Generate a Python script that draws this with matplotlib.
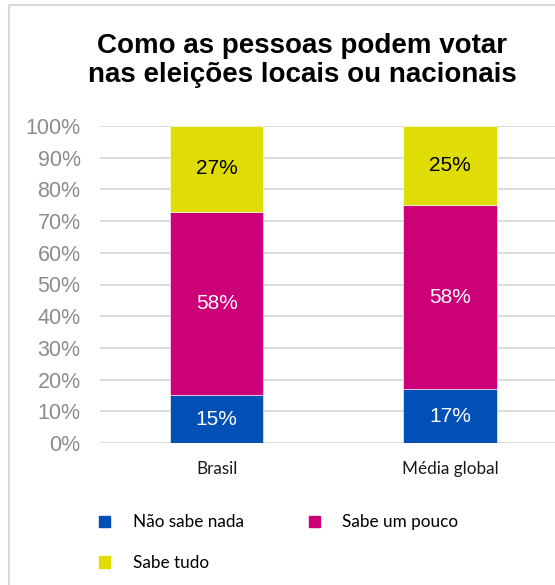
import matplotlib.pyplot as plt
from matplotlib.patches import Patch, Rectangle
from matplotlib.ticker import PercentFormatter

# Data
groups = ['Brasil', 'Média global']
series = ['Não sabe nada', 'Sabe um pouco', 'Sabe tudo']
nada = [15, 17]
pouco = [58, 58]
tudo = [27, 25]
colors = ['#0050B5', '#CC0078', '#E0DC05']
label_colors = ['white', 'white', 'black']

W, H = 555, 585
fig = plt.figure(figsize=(W / 100, H / 100), dpi=100)
ax = fig.add_axes([100 / W, 1 - 443 / H, 1 - 100 / W, (443 - 126) / H])

x = range(len(groups))
bottom = [0, 0]
for vals, name, c, lc in zip([nada, pouco, tudo], series, colors, label_colors):
    bars = ax.bar(x, vals, width=0.4, bottom=bottom, color=c, label=name,
                  edgecolor='white', linewidth=0.4, zorder=3)
    ax.bar_label(bars, labels=[f'{v}%' for v in vals], label_type='center',
                 color=lc, fontsize=15, family='Liberation Sans')
    bottom = [b + v for b, v in zip(bottom, vals)]

ax.set_xlim(-0.5, 1.45)
ax.set_ylim(0, 100)
ax.set_yticks(range(0, 101, 10))
ax.yaxis.set_major_formatter(PercentFormatter(decimals=0))
ax.grid(axis='y', color='#d9d9d9', linewidth=1.3, zorder=0)
for s in ax.spines.values():
    s.set_visible(False)
ax.tick_params(axis='y', length=0, pad=14, labelsize=15.5, labelcolor='#8c8c8c')
ax.tick_params(axis='x', length=0, pad=13, labelsize=12.3)
for t in ax.get_yticklabels():
    t.set_family('Liberation Sans')
ax.set_xticks(list(x))
ax.set_xticklabels(groups, family='Lato', color='#1a1a1a')

# Title
fig.text(302 / W, 1 - 33 / H, 'Como as pessoas podem votar\nnas eleições locais ou nacionais',
         ha='center', va='top', fontsize=20, fontweight='bold',
         family='Liberation Sans', linespacing=1.15)

# Legend laid out row by row
handles = [Patch(color=c) for c in colors]
order = [0, 2, 1]
fig.legend([handles[i] for i in order], [series[i] for i in order],
           loc='upper left', bbox_to_anchor=(84 / W, 1 - 499 / H), ncol=2,
           frameon=False, prop={'family': 'Lato', 'size': 12.3},
           handlelength=0.65, handleheight=0.65, handletextpad=1.3,
           columnspacing=3.8, labelspacing=1.45)

# Light frame around the chart
fig.add_artist(Rectangle((9 / W, -0.1), 1.2, 1.1 - 5 / H, transform=fig.transFigure,
                         fill=False, edgecolor='#d9d9d9', linewidth=1.5))

fig.savefig('out.png', dpi=100)
